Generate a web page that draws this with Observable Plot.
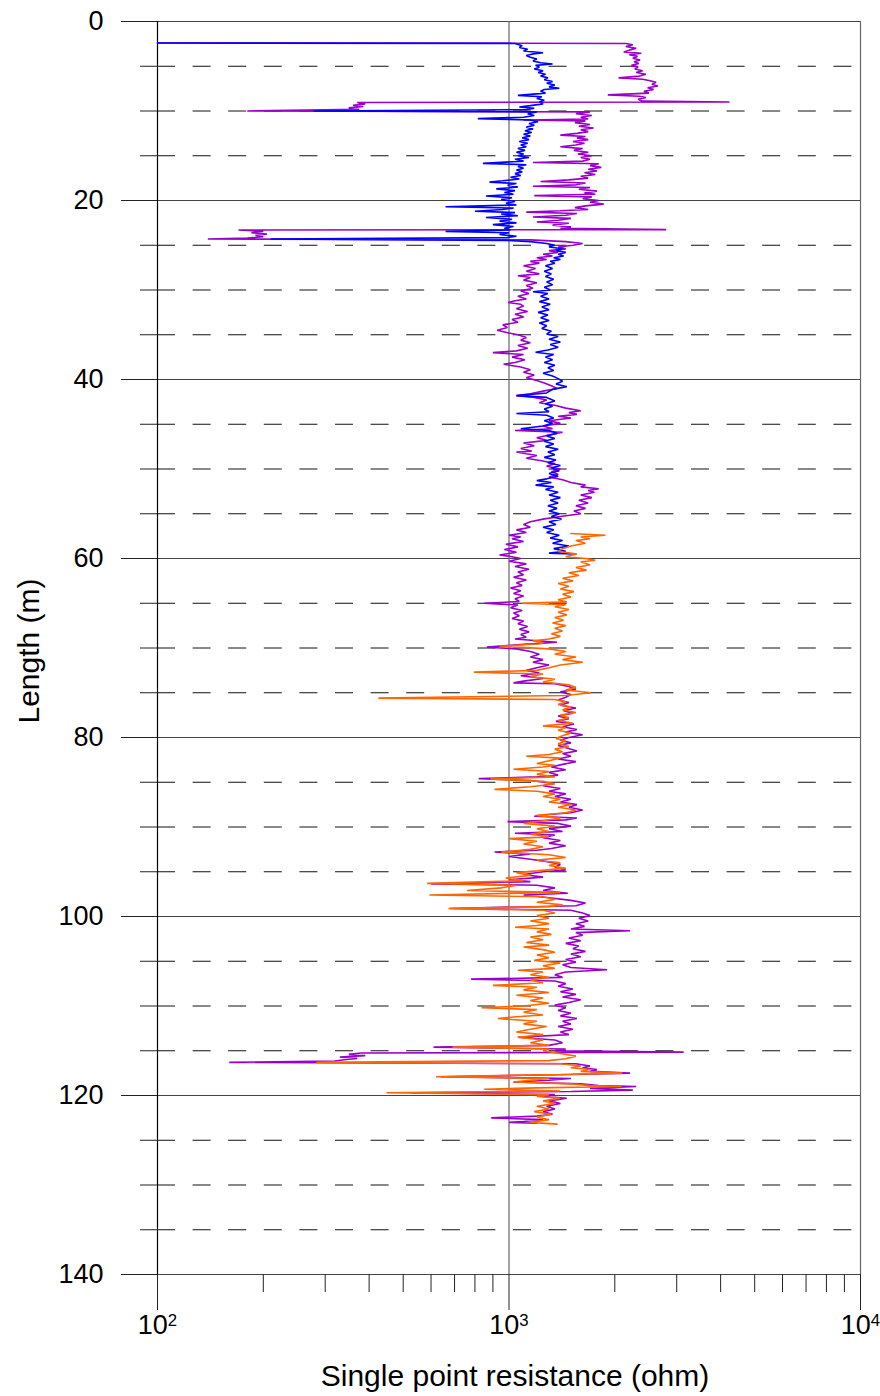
<!DOCTYPE html>
<html>
<head>
<meta charset="utf-8">
<script src="https://cdn.jsdelivr.net/npm/d3@7"></script>
<script src="https://cdn.jsdelivr.net/npm/@observablehq/plot@0.6"></script>
<style>
  body { margin: 0; background: #fff; }
  #chart { width: 880px; height: 1396px; }
</style>
</head>
<body>
<div id="chart"></div>
<script>
// Single point resistance logs: [depth (m), resistance (ohm)]
const purpleLog = [
  [2.40,100],[2.45,2150],[2.6,2250],[2.8,2150],[3.0,2300],[3.2,2200],[3.4,2120],[3.55,2380],[3.7,2200],[3.9,2320],
  [4.1,2250],[4.3,2360],[4.5,2270],[4.7,2340],[4.9,2230],[5.1,2330],[5.3,2280],[5.5,2400],[5.7,2300],[5.9,2450],
  [6.1,2350],[6.3,2050],[6.45,2400],[6.6,2500],[6.8,2620],[7.0,2550],[7.2,2650],[7.4,2480],[7.6,2580],[7.8,2420],
  [8.0,2500],[8.2,1910],[8.35,2350],[8.5,2450],[8.7,2330],[8.9,2400],[9.0,4240],[9.05,370],[9.2,390],[9.35,360],
  [9.5,385],[9.65,350],[9.8,375],[10.0,180],[10.1,1700],[10.3,1550],[10.5,1720],[10.7,1600],[10.9,1680],[11.0,1100],
  [11.1,1650],[11.3,1540],[11.5,1700],[11.7,1580],[11.9,1740],[12.1,1600],[12.3,1680],[12.5,1560],[12.7,1400],[12.85,1650],
  [13.0,1560],[13.2,1680],[13.4,1520],[13.6,1640],[13.8,1550],[14.0,1400],[14.2,1620],[14.4,1530],[14.6,1680],[14.8,1570],
  [15.0,1720],[15.2,1600],[15.4,1700],[15.6,1620],[15.75,1170],[15.9,1800],[16.1,1700],[16.3,1830],[16.5,1680],[16.7,1780],
  [16.9,1640],[17.1,1760],[17.3,1600],[17.5,1680],[17.7,1480],[17.88,1230],[18.05,1650],[18.25,1550],[18.4,1170],[18.55,1700],
  [18.75,1580],[18.95,1780],[19.15,1640],[19.3,1760],[19.45,1180],[19.6,1720],[19.8,1620],[20.0,1800],[20.2,1700],[20.4,1860],
  [20.6,1650],[20.8,1540],[21.0,1680],[21.15,1400],[21.3,1120],[21.45,1560],[21.65,1450],[21.85,1170],[22.0,1500],[22.2,1380],
  [22.4,1200],[22.55,1480],[22.75,1330],[22.95,1500],[23.1,1400],[23.25,2800],[23.3,170],[23.45,200],[23.6,185],[23.75,205],
  [23.9,190],[24.05,200],[24.2,180],[24.3,139],[24.4,1150],[24.6,1450],[24.8,1620],[25.0,1520],[25.2,1380],[25.4,1450],
  [25.6,1300],[25.8,1380],[26.0,1250],[26.2,1330],[26.4,1200],[26.6,1280],[26.8,1150],[27.0,1220],[27.3,1100],[27.6,1190],
  [27.9,1120],[28.2,1220],[28.4,1060],[28.6,1150],[28.9,1100],[29.2,1200],[29.5,1120],[29.8,1170],[30.1,1080],[30.4,1140],
  [30.7,1060],[31.0,1120],[31.2,1040],[31.4,995],[31.6,1080],[31.8,1100],[32.1,1050],[32.4,1130],[32.7,1040],[33.0,1100],
  [33.3,1020],[33.6,1060],[33.9,960],[34.2,990],[34.5,925],[34.8,1000],[35.0,1060],[35.3,1120],[35.6,1080],[35.9,1150],
  [36.2,1060],[36.5,1130],[36.8,1050],[37.0,900],[37.2,1100],[37.5,1020],[37.8,1110],[38.1,1040],[38.3,965],[38.6,1080],
  [38.9,1150],[39.2,1100],[39.5,1180],[39.8,1120],[40.1,1200],[40.4,1260],[40.7,1320],[41.0,1370],[41.3,1250],[41.6,1150],
  [41.8,1050],[42.0,1180],[42.3,1280],[42.6,1220],[42.9,1360],[43.2,1450],[43.5,1600],[43.7,1480],[43.9,1560],[44.1,1380],
  [44.3,1500],[44.6,1300],[44.9,1400],[45.2,1250],[45.5,1330],[45.7,1040],[45.9,1420],[46.2,1300],[46.5,1200],[46.8,1280],
  [47.1,1100],[47.4,1180],[47.7,1080],[48.0,1160],[48.1,1050],[48.3,1120],[48.5,1200],[48.8,1120],[49.1,1250],[49.4,1350],
  [49.7,1280],[50.0,1400],[50.3,1320],[50.6,1380],[50.9,1300],[51.2,1420],[51.5,1500],[51.8,1650],[52.0,1600],[52.2,1800],
  [52.4,1680],[52.6,1750],[52.9,1600],[53.2,1720],[53.5,1580],[53.8,1680],[54.1,1550],[54.4,1650],[54.7,1530],[55.0,1600],
  [55.3,1400],[55.6,1250],[55.9,1150],[56.2,1100],[56.5,1150],[56.8,1050],[57.1,1120],[57.4,1000],[57.6,1080],[57.8,1020],
  [58.1,1100],[58.4,980],[58.7,1060],[59.0,970],[59.3,1050],[59.6,940],[59.8,1020],[60.0,1080],[60.3,1000],[60.6,1120],
  [60.9,1040],[61.2,1140],[61.5,1060],[61.8,1100],[62.1,1030],[62.4,1120],[62.7,1050],[63.0,1090],[63.3,1010],[63.6,1080],
  [63.9,1030],[64.2,1100],[64.5,1040],[64.8,1070],[65.0,850],[65.2,1060],[65.5,1010],[65.8,1090],[66.1,1030],[66.4,1070],
  [66.7,1020],[67.0,1100],[67.3,1060],[67.6,1130],[67.9,1070],[68.2,1140],[68.5,1080],[68.8,1120],[69.0,1040],[69.35,1370],
  [69.6,1100],[69.9,865],[70.1,1050],[70.4,1150],[70.7,1220],[71.0,1150],[71.3,1250],[71.6,1170],[71.9,1300],[72.2,1200],
  [72.5,1120],[72.8,1220],[73.1,1080],[73.4,1250],[73.7,1100],[73.9,1030],[74.0,1350],[74.3,1480],[74.6,1550],[74.9,1400],
  [75.2,1500],[75.5,1450],[75.8,1380],[76.1,1480],[76.4,1400],[76.7,1550],[77.0,1430],[77.3,1520],[77.6,1380],[77.9,1480],
  [78.2,1360],[78.5,1530],[78.8,1420],[79.1,1560],[79.4,1450],[79.7,1620],[80.0,1480],[80.3,1400],[80.6,1500],[80.9,1380],
  [81.2,1470],[81.5,1560],[81.8,1420],[82.1,1500],[82.4,1380],[82.7,1550],[83.0,1420],[83.3,1320],[83.6,1450],[83.9,1300],
  [84.2,1380],[84.4,1200],[84.6,820],[84.8,1150],[85.1,1320],[85.4,1250],[85.7,1400],[86.0,1300],[86.3,1450],[86.6,1350],
  [86.9,1500],[87.2,1400],[87.5,1560],[87.8,1480],[88.1,1620],[88.4,1500],[88.6,1300],[88.8,1180],[89.0,1560],[89.2,1450],
  [89.4,990],[89.6,1380],[89.9,1500],[90.2,1300],[90.5,1420],[90.7,1040],[90.9,1350],[91.2,1250],[91.5,1400],[91.8,1300],
  [92.1,1450],[92.4,1320],[92.6,1200],[92.8,910],[93.0,1150],[93.3,1000],[93.6,1150],[93.9,1300],[94.2,1400],[94.5,1350],
  [94.8,1450],[95.0,1250],[95.3,1100],[95.6,1250],[95.9,1000],[96.1,1150],[96.35,600],[96.5,1200],[96.8,1350],[97.1,1250],
  [97.4,1470],[97.6,1100],[97.9,1300],[98.2,1500],[98.5,1650],[98.8,1550],[99.1,680],[99.3,1500],[99.6,1620],[99.9,1700],
  [100.2,1580],[100.5,1680],[100.8,1550],[101.1,1640],[101.4,1500],[101.6,2210],[101.8,1550],[102.1,1620],[102.4,1480],[102.7,1600],
  [103.0,1450],[103.3,1580],[103.6,1520],[103.9,1650],[104.2,1500],[104.5,1600],[104.8,1450],[105.1,1550],[105.4,1420],[105.7,1500],
  [105.95,1900],[106.2,1450],[106.5,1350],[106.8,1420],[107.0,780],[107.2,1350],[107.5,1450],[107.8,1380],[108.1,1520],[108.4,1400],
  [108.7,1550],[109.0,1420],[109.3,1600],[109.6,1480],[109.9,1350],[110.2,1450],[110.5,1380],[110.8,1500],[111.1,1400],[111.4,1560],
  [111.7,1420],[112.0,1500],[112.3,1380],[112.6,1520],[112.9,1400],[113.2,1480],[113.5,1060],[113.8,1350],[114.1,1420],[114.4,1300],
  [114.6,610],[114.8,1450],[115.0,1350],[115.15,3140],[115.25,380],[115.4,350],[115.55,390],[115.7,330],[115.85,370],[116.0,340],
  [116.15,320],[116.3,160],[116.45,1550],[116.7,1700],[116.9,1620],[117.1,1780],[117.3,1700],[117.5,2210],[117.65,1500],[117.9,640],
  [118.1,1500],[118.3,1300],[118.5,1030],[118.7,1600],[118.9,1800],[119.0,2300],[119.2,1700],[119.4,2250],[119.55,1500],[119.7,525],
  [119.9,1350],[120.1,1250],[120.3,1460],[120.6,1300],[120.9,1400],[121.2,1280],[121.5,1350],[121.8,1250],[122.1,1330],[122.3,1200],
  [122.5,890],[122.7,1250],[122.9,1100],[123.0,1000],[123.1,1200]
];

const blueLog = [
  [2.40,100],[2.45,1040],[2.7,1090],[2.9,1070],[3.1,1130],[3.3,1100],[3.5,1250],[3.65,1160],[3.8,1120],[4.0,1150],
  [4.2,1200],[4.4,1170],[4.6,1230],[4.75,1330],[4.9,1190],[5.1,1220],[5.3,1180],[5.5,1250],[5.7,1210],[5.9,1270],
  [6.1,1230],[6.3,1290],[6.5,1260],[6.7,1330],[6.9,1280],[7.1,1350],[7.3,1300],[7.45,1390],[7.6,1260],[7.8,1230],
  [8.0,1270],[8.25,1060],[8.4,1240],[8.6,1200],[8.8,1260],[9.0,1220],[9.2,1250],[9.4,1150],[9.55,1070],[9.7,1180],
  [9.85,1120],[10.0,278],[10.1,1200],[10.3,1130],[10.5,1180],[10.7,1100],[10.85,815],[11.0,1150],[11.2,1210],[11.4,1140],
  [11.6,1180],[11.8,1120],[12.0,1170],[12.2,1110],[12.4,1160],[12.6,1100],[12.8,1150],[13.0,1090],[13.2,1140],[13.4,1070],
  [13.6,1130],[13.8,1080],[14.0,1120],[14.2,1060],[14.4,1110],[14.6,1050],[14.8,1100],[15.0,1060],[15.2,1140],[15.4,1040],
  [15.6,1100],[15.85,843],[16.0,1120],[16.2,1060],[16.4,1100],[16.6,1050],[16.8,1090],[17.0,1040],[17.2,1080],[17.4,1010],
  [17.6,1070],[17.8,960],[17.95,880],[18.1,1050],[18.3,990],[18.5,1060],[18.7,920],[18.9,1040],[19.1,970],[19.3,1030],
  [19.5,860],[19.7,1020],[19.9,950],[20.1,1040],[20.3,980],[20.5,1050],[20.7,660],[20.85,1030],[21.0,960],[21.2,800],
  [21.35,1040],[21.5,950],[21.7,1060],[21.9,860],[22.1,1020],[22.3,940],[22.5,1050],[22.7,900],[22.9,1030],[23.1,970],
  [23.3,1010],[23.45,660],[23.6,1000],[23.8,940],[24.0,1050],[24.15,990],[24.3,210],[24.45,980],[24.6,1150],[24.8,1280],
  [25.0,1350],[25.2,1300],[25.4,1420],[25.6,1360],[25.8,1450],[26.0,1380],[26.2,1430],[26.4,1340],[26.6,1400],[26.8,1310],
  [27.0,1350],[27.3,1270],[27.6,1330],[27.9,1260],[28.2,1320],[28.5,1270],[28.8,1340],[29.1,1280],[29.4,1330],[29.7,1260],
  [30.0,1310],[30.2,1170],[30.4,1290],[30.7,1230],[31.0,1300],[31.3,1220],[31.6,1310],[31.9,1240],[32.2,1300],[32.5,1210],
  [32.8,1290],[33.1,1230],[33.4,1300],[33.7,1220],[34.0,1280],[34.3,1240],[34.6,1320],[34.9,1280],[35.2,1380],[35.5,1300],
  [35.8,1400],[36.1,1310],[36.4,1380],[36.7,1290],[36.95,1190],[37.2,1340],[37.5,1270],[37.8,1330],[38.1,1260],[38.4,1350],
  [38.7,1290],[39.0,1340],[39.3,1250],[39.6,1330],[39.9,1380],[40.2,1420],[40.5,1360],[40.8,1460],[41.1,1330],[41.5,1280],
  [41.8,1050],[42.0,1280],[42.4,1350],[42.7,1270],[43.0,1330],[43.3,1260],[43.6,1300],[43.8,1050],[44.0,1280],[44.3,1340],
  [44.6,1260],[44.9,1330],[45.2,1250],[45.5,1080],[45.7,1300],[46.0,1370],[46.3,1280],[46.6,1350],[46.9,1260],[47.2,1340],
  [47.5,1270],[47.8,1380],[48.1,1290],[48.4,1350],[48.7,1260],[49.0,1360],[49.3,1290],[49.6,1400],[49.9,1320],[50.2,1390],
  [50.5,1300],[50.8,1380],[51.1,1280],[51.3,1200],[51.5,1320],[51.8,1190],[52.0,1340],[52.3,1270],[52.6,1380],[52.9,1300],
  [53.2,1400],[53.5,1310],[53.8,1380],[54.1,1290],[54.4,1370],[54.7,1300],[55.0,1390],[55.3,1320],[55.6,1410],[55.9,1300],
  [56.2,1360],[56.5,1250],[56.8,1340],[57.1,1280],[57.4,1390],[57.7,1310],[58.0,1420],[58.3,1330],[58.6,1480],[58.9,1340],
  [59.2,1450],[59.4,1300],[59.5,1520]
];

const orangeLog = [
  [57.2,1500],[57.4,1880],[57.6,1600],[57.8,1700],[58.0,1550],[58.3,1650],[58.6,1500],[58.9,1420],[59.2,1380],[59.5,1560],
  [59.8,1450],[60.0,1650],[60.2,1760],[60.4,1600],[60.7,1700],[61.0,1550],[61.3,1660],[61.6,1480],[61.9,1580],[62.2,1420],
  [62.5,1520],[62.8,1380],[63.1,1480],[63.4,1400],[63.7,1530],[64.0,1420],[64.3,1500],[64.6,1380],[64.85,1460],[65.0,1090],
  [65.15,1450],[65.4,1350],[65.7,1480],[66.0,1380],[66.3,1460],[66.6,1350],[66.9,1430],[67.2,1330],[67.5,1450],[67.8,1350],
  [68.1,1420],[68.4,1320],[68.7,1400],[69.0,1300],[69.2,1170],[69.5,1250],[69.8,940],[70.1,1300],[70.4,1450],[70.7,1350],
  [71.0,1550],[71.3,1420],[71.6,1620],[71.9,1400],[72.2,1300],[72.5,1200],[72.7,795],[72.9,1250],[73.2,1150],[73.5,1350],
  [73.8,1250],[74.1,1480],[74.4,1550],[74.7,1450],[75.0,1710],[75.3,1450],[75.6,425],[75.75,1350],[76.0,1450],[76.3,1380],
  [76.6,1500],[76.9,1420],[77.2,1550],[77.5,1400],[77.8,1480],[78.1,1380],[78.4,1520],[78.7,1250],[78.9,1450],[79.2,1380],
  [79.5,1500],[79.8,1420],[80.1,1360],[80.4,1450],[80.7,1380],[81.0,1480],[81.3,1350],[81.6,1420],[81.9,1300],[82.1,1120],
  [82.3,1400],[82.6,1300],[82.9,1200],[83.1,1350],[83.3,1250],[83.55,1030],[83.8,1300],[84.1,1200],[84.4,1350],[84.65,885],
  [84.9,1250],[85.2,1350],[85.5,1150],[85.8,910],[86.0,1200],[86.3,1350],[86.6,1250],[86.9,1400],[87.2,1300],[87.5,1500],
  [87.8,1380],[88.1,1550],[88.4,1450],[88.7,1200],[89.0,1400],[89.3,1250],[89.6,1100],[89.9,1350],[90.2,1200],[90.5,1300],
  [90.8,1150],[91.1,1300],[91.3,1000],[91.6,1200],[91.9,1100],[92.2,1250],[92.5,1150],[92.8,950],[93.1,1300],[93.4,1450],
  [93.7,1200],[94.0,1400],[94.3,1300],[94.6,1450],[94.9,1200],[95.1,1050],[95.4,1150],[95.7,980],[96.0,1100],[96.3,585],
  [96.5,1050],[96.8,950],[97.1,760],[97.3,1400],[97.6,594],[97.8,1250],[98.1,1350],[98.4,1200],[98.7,1420],[98.9,1300],
  [99.1,673],[99.3,1250],[99.6,1350],[99.9,1200],[100.2,1300],[100.5,1150],[100.8,1300],[101.0,1200],[101.2,1040],[101.4,1300],
  [101.7,1200],[102.0,1320],[102.3,1150],[102.6,1250],[102.9,1120],[103.2,1300],[103.4,1100],[103.7,1250],[104.0,1350],[104.3,1200],
  [104.6,1300],[104.9,1180],[105.2,1400],[105.5,1250],[105.8,1350],[106.0,1060],[106.2,1250],[106.5,1150],[106.8,1300],[107.1,1150],
  [107.4,1250],[107.7,900],[107.9,1200],[108.2,1100],[108.5,1300],[108.8,1050],[109.1,1250],[109.4,1150],[109.7,1300],[110.0,1100],
  [110.2,836],[110.4,1200],[110.7,1100],[111.0,1250],[111.2,1050],[111.4,930],[111.7,1200],[112.0,1100],[112.3,1280],[112.6,1150],
  [112.9,1050],[113.2,1250],[113.5,1060],[113.8,1250],[114.1,1150],[114.4,1300],[114.6,690],[114.8,1300],[115.0,1250],[115.3,1400],
  [115.6,1550],[115.9,1450],[116.1,1300],[116.3,283],[116.45,1400],[116.7,1600],[116.9,1500],[117.1,1700],[117.3,1600],[117.5,2100],
  [117.65,1400],[117.9,620],[118.1,1300],[118.3,1150],[118.5,1030],[118.7,1500],[118.9,1700],[119.0,2090],[119.15,1200],[119.3,850],
  [119.5,1400],[119.7,448],[119.9,1300],[120.1,1200],[120.3,1400],[120.6,1250],[120.9,1350],[121.2,1200],[121.5,1300],[121.8,1180],
  [122.1,1320],[122.4,1200],[122.7,1300],[123.0,1150],[123.2,1370]
];

// Axis ticks
const majorDepths = [0, 20, 40, 60, 80, 100, 120, 140];
const minorDepths = [5, 10, 15, 25, 30, 35, 45, 50, 55, 65, 70, 75, 85, 90, 95, 105, 110, 115, 125, 130, 135];
const decadeTicks = [100, 1000, 10000];
const decadeLabels = ["10^2", "10^3", "10^4"];
const minorOhmTicks = [200, 300, 400, 500, 600, 700, 800, 900, 2000, 3000, 4000, 5000, 6000, 7000, 8000, 9000];

const rows = (log) => log.map(([depth, ohm]) => ({depth, ohm}));
const lineOpts = (color) => ({x: "ohm", y: "depth", stroke: color, strokeWidth: 1.6, strokeLinejoin: "miter"});

const chart = Plot.plot({
  width: 880,
  height: 1396,
  marginLeft: 157,
  marginRight: 20,
  marginTop: 21,
  marginBottom: 122,
  style: {fontFamily: "'Liberation Sans', Arial, sans-serif", background: "#fff", color: "#000"},
  x: {type: "log", domain: [100, 10000]},
  y: {domain: [0, 140], reverse: true},
  marks: [
    // grid
    Plot.ruleY(minorDepths, {stroke: "#111", strokeWidth: 1, strokeDasharray: "18,17.6"}),
    Plot.ruleY(majorDepths, {stroke: "#444", strokeWidth: 1.2}),
    Plot.ruleX([1000, 10000], {stroke: "#666", strokeWidth: 1.2}),
    Plot.ruleX([100], {stroke: "#000", strokeWidth: 1.2}),
    // logs
    Plot.line(rows(purpleLog), lineOpts("#9900cc")),
    Plot.line(rows(blueLog), lineOpts("#0000ff")),
    Plot.line(rows(orangeLog), lineOpts("#ff6600")),
    // axes
    Plot.axisY({ticks: majorDepths, tickSize: 36, tickPadding: 18, fontSize: 27, label: null, stroke: "#222"}),
    Plot.axisY({ticks: minorDepths, tickSize: 17, tickFormat: () => "", label: null, stroke: "#222"}),
    Plot.axisX({ticks: decadeTicks, tickSize: 36, tickPadding: 4, fontSize: 27, label: null, stroke: "#222",
      tickFormat: (d) => decadeLabels[decadeTicks.indexOf(d)]}),
    Plot.axisX({ticks: minorOhmTicks, tickSize: 18, tickFormat: () => "", label: null, stroke: "#222"}),
    // axis titles
    Plot.text(["Single point resistance (ohm)"], {frameAnchor: "bottom", dy: 111, dx: 6, fontSize: 30}),
    Plot.text(["Length (m)"], {frameAnchor: "left", textAnchor: "middle", rotate: -90, dx: -128, dy: 3, fontSize: 30})
  ]
});

// Render decade labels as 10 with a raised exponent
d3.select(chart).selectAll('g[aria-label="x-axis tick label"] text').each(function () {
  const [base, exp] = this.textContent.split("^");
  if (!exp) return;
  this.textContent = base;
  d3.select(this).append("tspan").attr("dy", "-0.45em").attr("font-size", "0.62em").text(exp);
});

document.getElementById("chart").appendChild(chart);
</script>
</body>
</html>
